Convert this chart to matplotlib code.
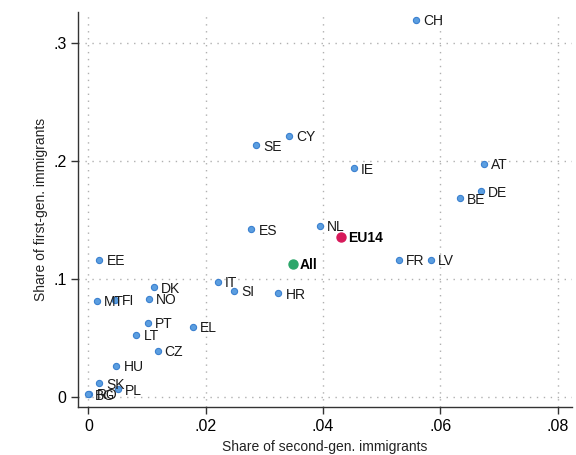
import matplotlib.pyplot as plt

plt.rcParams['font.family'] = ['Liberation Sans', 'DejaVu Sans']

# country shares: (second-gen, first-gen)
countries = ['CH', 'CY', 'SE', 'IE', 'AT', 'DE', 'BE', 'ES', 'NL', 'FR', 'LV', 'EE',
             'IT', 'SI', 'HR', 'DK', 'MT', 'FI', 'NO', 'PT', 'EL', 'LT', 'CZ', 'HU',
             'SK', 'PL', 'RO', 'BG']
second_gen = [0.0559, 0.0342, 0.0286, 0.0453, 0.0674, 0.0669, 0.0633, 0.0278, 0.0394,
              0.0529, 0.0583, 0.0019, 0.0221, 0.0249, 0.0324, 0.0112, 0.0015, 0.0046,
              0.0103, 0.0101, 0.0179, 0.0082, 0.0118, 0.0048, 0.0019, 0.0051, 0.0002,
              0.0000]
first_gen = [0.3198, 0.2213, 0.2134, 0.1939, 0.1975, 0.1744, 0.1684, 0.1420, 0.1449,
             0.1160, 0.1160, 0.1160, 0.0977, 0.0897, 0.0878, 0.0929, 0.0812, 0.0821,
             0.0829, 0.0628, 0.0594, 0.0524, 0.0390, 0.0263, 0.0114, 0.0063, 0.0025,
             0.0020]

# aggregates
agg_names = ['All', 'EU14']
agg_second = [0.0348, 0.0430]
agg_first = [0.1127, 0.1358]
agg_colors = ['#2ca66a', '#d7195a']

xticks = [0, 0.02, 0.04, 0.06, 0.08]
xticklabels = ['0', '.02', '.04', '.06', '.08']
yticks = [0, 0.1, 0.2, 0.3]
yticklabels = ['0', '.1', '.2', '.3']

fig = plt.figure(figsize=(5.76, 4.55), dpi=100)
ax = fig.add_axes([0.136, 0.105, 0.857, 0.869])

ax.scatter(second_gen, first_gen, s=20, color='#5b9ee0', edgecolor='#3b80d0',
           linewidth=0.8, zorder=3)
for name, x, y in zip(countries, second_gen, first_gen):
    ax.annotate(name, (x, y), xytext=(5, -1), textcoords='offset points',
                ha='left', va='center', fontsize=10, color='#1a1a1a', zorder=4)

for name, x, y, c in zip(agg_names, agg_second, agg_first, agg_colors):
    ax.scatter(x, y, s=42, color=c, edgecolor=c, zorder=3)
    ax.annotate(name, (x, y), xytext=(5, -1), textcoords='offset points',
                ha='left', va='center', fontsize=10, fontweight='bold',
                color='black', zorder=4)

ax.set_xlim(-0.0017, 0.0824)
ax.set_ylim(-0.009, 0.3266)
ax.set_xticks(xticks)
ax.set_xticklabels(xticklabels)
ax.set_yticks(yticks)
ax.set_yticklabels(yticklabels)
ax.tick_params(labelsize=11.5, length=5, color='#333333', width=1)
ax.grid(True, linestyle=(0, (1, 4)), color='#b0b0b0', linewidth=1)
ax.set_axisbelow(True)
for side in ['top', 'right']:
    ax.spines[side].set_visible(False)
for side in ['left', 'bottom']:
    ax.spines[side].set_color('#333333')
    ax.spines[side].set_linewidth(1)

ax.set_xlabel('Share of second-gen. immigrants', fontsize=10, color='#222222')
ax.set_ylabel('Share of first-gen. immigrants', fontsize=10, color='#222222')

fig.savefig('out.png', dpi=100)
